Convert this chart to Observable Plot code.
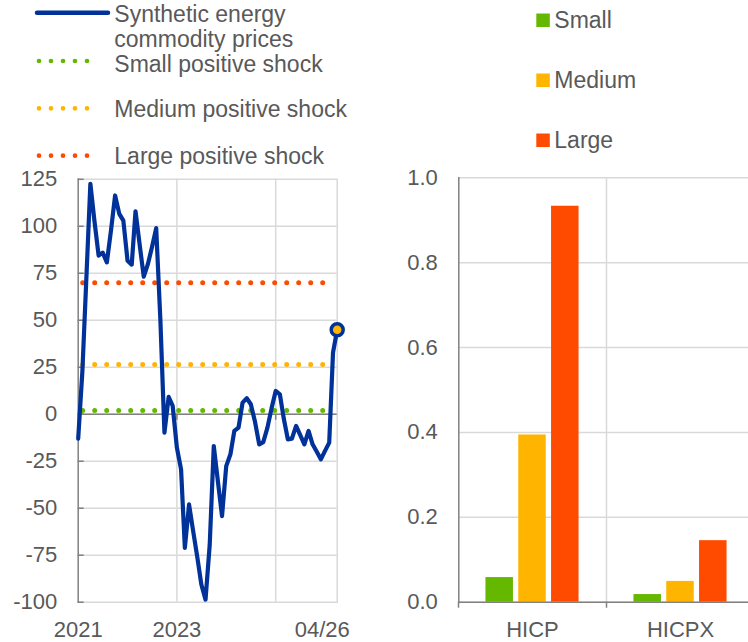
<!DOCTYPE html>
<html><head><meta charset="utf-8">
<script src="https://cdn.jsdelivr.net/npm/d3@7"></script>
<script src="https://cdn.jsdelivr.net/npm/@observablehq/plot@0.6"></script>
<style>
html,body{margin:0;padding:0;background:#fff;overflow:hidden}
#root{position:relative;width:748px;height:642px;overflow:hidden;font-family:"Liberation Sans",Arial,sans-serif}
#root > svg{position:absolute;top:0}
</style></head><body><div id="root"></div>
<script>
// ---- data: left panel (synthetic energy commodity prices, monthly from Jan 2021) ----
const priceStart = "2021-01-01";
const priceValues = [-13, 23, 70, 122.6, 103, 84.4, 86, 80.8, 98, 116.4, 106.6, 103,
  81.7, 79.6, 108, 90, 73.2, 80, 89, 99, 50, -9.8, 9.2, 4.4,
  -17.8, -29.3, -71.1, -48, -62, -76, -90.6, -98.6, -69.3, -16.9, -36, -54.2,
  -27.6, -21.3, -8.9, -7.1, 6.2, 8.5, 5.3, -4, -16, -14.8, -7.1, 3,
  12.4, 10.6, -2, -13.4, -13, -6.2, -11, -16, -8.9, -16, -20, -24,
  -19.5, -15.1, 32.8, 45];
const shockNames = ["Small positive shock", "Medium positive shock", "Large positive shock"];
const shockLevels = [2, 26.4, 70];
const shockFrom = "2021-01-01";
const shockTo = "2026-01-01";
const leftYTicks = [-100, -75, -50, -25, 0, 25, 50, 75, 100, 125];
const leftXTickDates = ["2021-01-01", "2023-01-01"];
const leftXGridDates = ["2023-01-01", "2025-01-01"];
const leftXEnd = "2026-04-01";
const leftXEndLabel = "04/26";
const legendLineLabel = ["Synthetic energy", "commodity prices"];

// ---- data: right panel (bars) ----
const categories = ["HICP", "HICPX"];
const seriesNames = ["Small", "Medium", "Large"];
const smallValues = [0.058, 0.018];
const mediumValues = [0.394, 0.049];
const largeValues = [0.933, 0.145];
const rightYTicks = [0, 0.2, 0.4, 0.6, 0.8, 1.0];

const colors = {blue: "#003299", Small: "#65b800", Medium: "#ffb400", Large: "#ff4b00"};
const textColor = "#595959", axisColor = "#808080", gridColor = "#d9d9d9";
const font = `"Liberation Sans", Arial, sans-serif`;

const root = document.getElementById("root");
const parse = d => new Date(d + "T00:00:00Z");
const start = parse(priceStart);
const series = priceValues.map((v, i) => ({date: d3.utcMonth.offset(start, i), value: v}));
const shocks = shockNames.map((n, i) => ({name: n, level: shockLevels[i], from: parse(shockFrom), to: parse(shockTo)}));
const shockColors = ["Small", "Medium", "Large"].map(k => colors[k]);

const left = Plot.plot({
  width: 374, height: 642,
  marginLeft: 77.7, marginRight: 37.3, marginTop: 178.8, marginBottom: 40.3,
  style: {fontFamily: font, fontSize: "22px", color: textColor, background: "transparent", overflow: "visible"},
  x: {type: "utc", domain: [start, parse(leftXEnd)]},
  y: {domain: [-100, 125]},
  marks: [
    Plot.gridY(leftYTicks, {stroke: gridColor, strokeOpacity: 1, strokeWidth: 1.5}),
    Plot.ruleX(leftXGridDates.map(parse), {stroke: gridColor, strokeWidth: 1.5}),
    Plot.frame({anchor: "right", stroke: gridColor, strokeWidth: 1.5}),
    Plot.ruleY([0], {stroke: axisColor, strokeWidth: 1.5}),
    Plot.frame({anchor: "left", stroke: axisColor, strokeWidth: 1.5}),
    Plot.ruleY(leftYTicks, {x1: start, x2: start, insetRight: -6, stroke: axisColor, strokeWidth: 1.5}),
    Plot.ruleX(leftXGridDates.map(parse), {y1: 0, y2: 0, insetBottom: -6, stroke: axisColor, strokeWidth: 1.5}),
    ...shocks.map((s, i) => Plot.ruleY([s], {x1: "from", x2: "to", y: "level", stroke: shockColors[i], strokeWidth: 5, strokeLinecap: "round", strokeDasharray: "0 12", strokeDashoffset: 7})),
    Plot.line(series, {x: "date", y: "value", stroke: colors.blue, strokeWidth: 4.2, strokeLinejoin: "round", strokeLinecap: "round"}),
    Plot.dot(series.slice(-1), {x: "date", y: "value", r: 6, fill: colors.Medium, stroke: colors.blue, strokeWidth: 3.5}),
    Plot.axisY(leftYTicks, {tickSize: 0, tickPadding: 21, tickFormat: d => String(d), label: null}),
    Plot.axisX(leftXTickDates.map(parse), {tickSize: 0, tickPadding: 19, tickFormat: d3.utcFormat("%Y"), label: null}),
    Plot.text([leftXEndLabel], {x: () => parse(leftXEnd), text: d => d, frameAnchor: "bottom", lineAnchor: "top", dy: 19, textAnchor: "end", dx: 12.6, fill: textColor})
  ]
});
left.style.left = "0px";
root.appendChild(left);

// right panel
const barRows = categories.map((c, i) => ({cat: c, Small: smallValues[i], Medium: mediumValues[i], Large: largeValues[i]}));
const rw = 381, rml = 84.3, rmr = 0.7;
const bw = (rw - rml - rmr) / categories.length;
const barW = 27.5, barStep = 32.8;
const right = Plot.plot({
  width: rw, height: 642,
  marginLeft: rml, marginRight: rmr, marginTop: 177.3, marginBottom: 40.3,
  style: {fontFamily: font, fontSize: "22px", color: textColor, background: "transparent", overflow: "visible"},
  x: {type: "band", domain: categories, padding: 0},
  y: {domain: [0, 1]},
  marks: [
    Plot.gridY(rightYTicks, {stroke: gridColor, strokeOpacity: 1, strokeWidth: 1.5}),
    Plot.ruleX(categories.slice(1), {dx: -bw / 2, stroke: gridColor, strokeWidth: 1.5}),
    ...seriesNames.map((s, i) => Plot.barY(barRows, {x: "cat", y: s, fill: colors[s], dx: (i - 1) * barStep, insetLeft: (bw - barW) / 2, insetRight: (bw - barW) / 2})),
    Plot.ruleY([0], {stroke: axisColor, strokeWidth: 1.5}),
    Plot.frame({anchor: "left", stroke: axisColor, strokeWidth: 1.5}),
    Plot.ruleY(rightYTicks, {x1: categories[0], x2: categories[0], insetRight: bw - 6, stroke: axisColor, strokeWidth: 1.5}),
    Plot.ruleX(categories, {dx: -bw / 2, y1: 0, y2: 0, insetBottom: -6, stroke: axisColor, strokeWidth: 1.5}),
    Plot.axisY(rightYTicks, {tickSize: 0, tickPadding: 21, tickFormat: d3.format(".1f"), label: null}),
    Plot.axisX({tickSize: 0, tickPadding: 19, label: null})
  ]
});
right.style.left = "374px";
root.appendChild(right);

// legends overlay
const svg = d3.select(root).append("svg").attr("width", 748).attr("height", 642)
  .style("left", "0px").style("pointer-events", "none")
  .style("font-family", font).style("font-size", "23px").attr("fill", textColor);
svg.append("line").attr("x1", 37).attr("x2", 108).attr("y1", 12.7).attr("y2", 12.7)
  .attr("stroke", colors.blue).attr("stroke-width", 4.5).attr("stroke-linecap", "round");
svg.append("text").attr("x", 114.3).attr("y", 21.5).text(legendLineLabel[0]);
svg.append("text").attr("x", 114.3).attr("y", 47.4).text(legendLineLabel[1]);
const dotY = [61, 108.3, 155.7], dotBase = [72.2, 117, 164];
shockNames.forEach((n, i) => {
  svg.append("line").attr("x1", 39).attr("x2", 99).attr("y1", dotY[i]).attr("y2", dotY[i])
    .attr("stroke", shockColors[i]).attr("stroke-width", 4.7).attr("stroke-linecap", "round").attr("stroke-dasharray", "0 12");
  svg.append("text").attr("x", 114.3).attr("y", dotBase[i]).text(n);
});
const sqY = [13.5, 73.5, 133.5], sqBase = [28.3, 88.3, 148.3];
seriesNames.forEach((n, i) => {
  svg.append("rect").attr("x", 536.3).attr("y", sqY[i]).attr("width", 13.5).attr("height", 13.5).attr("fill", colors[n]);
  svg.append("text").attr("x", 554.3).attr("y", sqBase[i]).text(n);
});
</script></body></html>
